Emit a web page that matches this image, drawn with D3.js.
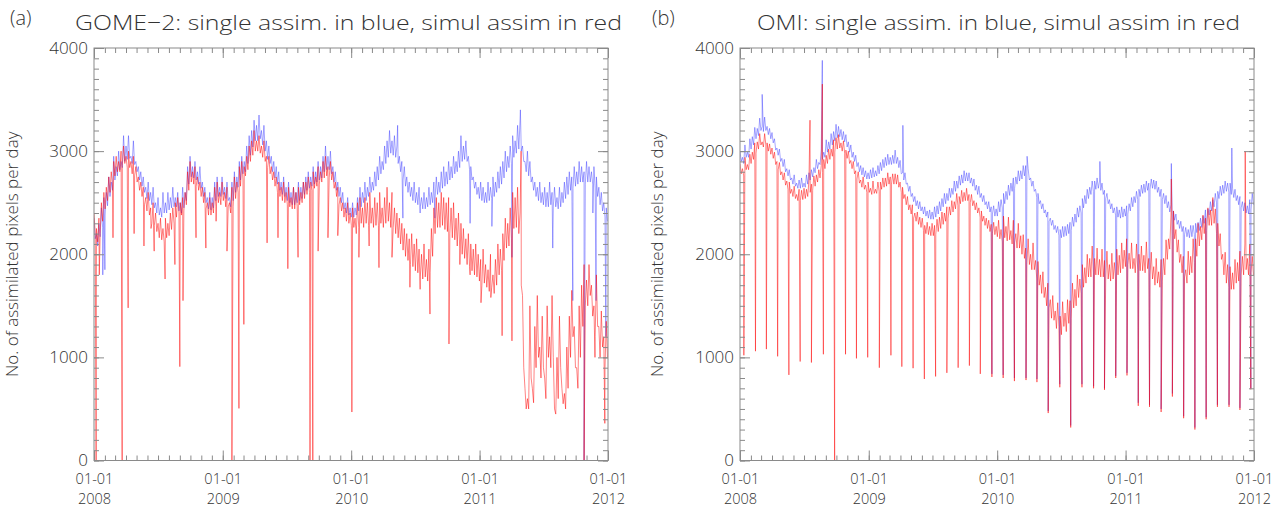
<!DOCTYPE html>
<html><head><meta charset="utf-8">
<script src="https://cdn.jsdelivr.net/npm/d3@7"></script>
<style>
body{margin:0;background:#fff}
svg{display:block}
text{font-family:'Open Sans','Lato','DejaVu Sans',sans-serif;font-weight:300;fill:#333}
</style>
</head><body>
<svg id="chart" width="1282" height="508"></svg>
<script>
// ---------------- DATA ----------------
const startDate = "2008-01-01";
const endDate = "2012-01-01";
const stepDays = 7;               // one pair of readings (upper / lower edge of the daily scatter) per week
const yTicks = [0, 1000, 2000, 3000, 4000];
const yearLabels = ["2008", "2009", "2010", "2011", "2012"];
const dayLabel = "01-01";
const yLabel = "No. of assimilated pixels per day";
const titles = ["GOME\u22122: single assim. in blue, simul assim in red",
                "OMI: single assim. in blue, simul assim in red"];
const panelTags = ["(a)", "(b)"];

// GOME-2, single assimilation (blue): weekly upper readings
const gomeBlue = [
 2350,2200,2300,2450,2550,2600,2750,2700,2950,2850,
 3000,2900,3150,3050,3150,2950,3100,2900,2850,2800,
 2750,2650,2700,2600,2650,2500,2550,2450,2600,2500,
 2600,2550,2650,2550,2600,2500,2650,2600,2850,2950,
 2850,2900,2800,2850,2700,2650,2550,2600,2550,2700,
 2750,2650,2750,
 2650,2700,2550,2700,2800,2750,2900,2950,2900,3050,
 3150,3200,3300,3250,3350,3200,3250,3100,3050,2950,
 2900,2850,2800,2700,2750,2650,2700,2600,2650,2600,
 2700,2650,2700,2750,2800,2750,2850,2800,2900,2850,
 2950,3050,2950,3000,2850,2800,2700,2650,2600,2500,
 2550,2450,
 2500,2450,2550,2650,2600,2700,2650,2750,2700,2800,
 2850,2950,2900,3050,3100,3200,3100,3150,3050,2950,
 2900,2850,2750,2700,2650,2700,2600,2650,2550,2600,
 2550,2650,2600,2700,2750,2700,2800,2850,2800,2900,
 2850,2950,2900,3000,3150,3050,3100,2950,2850,2750,
 2700,2650,
 2700,2650,2600,2700,2650,2750,2700,2800,2850,2900,
 3000,2950,3050,3150,3100,3250,3300,3050,2900,3000,
 2900,2750,2700,2650,2700,2600,2650,2600,2700,2600,
 2650,2550,2650,2600,2700,2750,2800,2750,2850,2800,
 2900,2850,2800,2900,2850,2800,2850,2750,2650,2600,
 2500,2450];
// GOME-2, single assimilation (blue): weekly lower readings
const gomeBlueLow = [
 2150,2080,2170,2260,2380,2470,2560,2620,2720,2760,
 2820,2840,2900,2920,2930,2880,2870,2800,2720,2660,
 2600,2540,2520,2480,2450,2400,2380,2360,2400,2400,
 2430,2450,2460,2460,2420,2400,2450,2520,2680,2750,
 2740,2720,2680,2640,2560,2500,2440,2430,2450,2520,
 2560,2560,2580,
 2540,2520,2460,2520,2600,2650,2720,2780,2800,2880,
 2960,3040,3100,3100,3120,3060,3000,2920,2880,2800,
 2740,2680,2620,2580,2560,2520,2500,2480,2480,2500,
 2520,2540,2580,2620,2640,2660,2680,2700,2720,2740,
 2800,2820,2820,2780,2700,2620,2560,2500,2440,2400,
 2380,2360,
 2360,2380,2420,2460,2500,2520,2560,2600,2620,2660,
 2720,2780,2820,2880,2940,2980,2960,2940,2880,2800,
 2720,2660,2600,2560,2520,2500,2480,2460,2440,2440,
 2460,2480,2500,2540,2580,2600,2640,2660,2680,2720,
 2740,2780,2800,2840,2900,2920,2900,2820,2720,2640,
 2580,2540,
 2520,2500,2500,2520,2540,2560,2600,2640,2680,2740,
 2800,2840,2880,2940,2980,3020,3000,2900,2800,2760,
 2700,2620,2560,2520,2500,2480,2460,2460,2480,2460,
 2460,2440,2460,2500,2540,2580,2620,2640,2660,2680,
 2700,2700,2680,2700,2700,2680,2640,2560,2480,2420,
 2360,2320];
// GOME-2, simultaneous assimilation (red): weekly upper readings
const gomeRed = [
 2400,2250,2350,2500,2600,2650,2750,2800,2900,2950,
 2900,3000,3050,2950,3000,2900,2950,2850,2750,2700,
 2650,2550,2600,2450,2500,2400,2300,2350,2250,2350,
 2300,2400,2450,2500,2550,2500,2550,2600,2800,2900,
 2800,2850,2750,2700,2650,2600,2500,2550,2500,2650,
 2700,2600,2700,
 2600,2650,2500,2650,2750,2700,2850,2900,2850,2950,
 3050,3100,3200,3100,3150,3050,3100,2950,2950,2850,
 2800,2750,2700,2650,2700,2600,2650,2550,2650,2600,
 2650,2600,2700,2700,2750,2700,2800,2750,2850,2800,
 2900,2950,2850,2900,2800,2700,2650,2550,2500,2450,
 2500,2400,
 2450,2350,2500,2550,2450,2550,2500,2600,2450,2550,
 2500,2600,2450,2550,2650,2500,2600,2450,2400,2350,
 2300,2250,2200,2150,2200,2100,2150,2050,2000,2100,
 1950,2050,2250,2450,2550,2500,2600,2550,2500,2550,
 2450,2500,2350,2400,2300,2250,2150,2200,2100,2050,
 2100,2000,
 1950,2050,1900,1850,2000,1800,1950,2100,2050,2200,
 2350,2300,2450,2600,2550,2650,2400,1600,700,600,
 1500,700,1300,1600,1100,1400,800,1500,1200,1600,
 500,1000,1400,700,650,1100,1400,1650,1300,900,
 1500,1700,1900,1750,1900,1700,1500,1800,1300,1450,
 1200,1350];
// GOME-2, simultaneous assimilation (red): weekly lower readings
const gomeRedLow = [
 2200,2120,2200,2320,2440,2520,2600,2680,2760,2800,
 2800,2860,2880,2840,2840,2780,2760,2700,2620,2560,
 2480,2420,2380,2300,2280,2220,2160,2140,2120,2160,
 2180,2240,2300,2360,2400,2380,2420,2480,2620,2700,
 2680,2660,2620,2560,2500,2440,2380,2380,2400,2460,
 2500,2480,2520,
 2460,2460,2400,2460,2540,2600,2660,2720,2760,2820,
 2900,2960,3000,3000,2980,2940,2900,2840,2780,2720,
 2660,2600,2560,2520,2500,2480,2460,2440,2440,2460,
 2480,2500,2540,2580,2600,2620,2640,2660,2680,2700,
 2740,2760,2740,2720,2640,2560,2480,2420,2360,2320,
 2300,2280,
 2260,2200,2260,2300,2260,2300,2280,2300,2260,2280,
 2280,2300,2260,2300,2320,2260,2260,2200,2160,2100,
 2040,1980,1940,1900,1880,1840,1820,1780,1760,1780,
 1740,1820,1980,2200,2260,2260,2280,2240,2220,2200,
 2160,2140,2080,2060,2000,1960,1900,1880,1840,1800,
 1780,1740,
 1700,1720,1680,1640,1680,1620,1700,1800,1840,1940,
 2060,2080,2150,2250,2260,2200,1700,900,500,500,
 800,560,900,1000,800,900,600,1000,900,1000,
 450,600,900,550,500,700,1000,1200,900,700,
 1000,1300,1500,1500,1600,1400,1200,1300,1000,1100,
 900,1000];
// isolated daily outliers: [day since start, value]
const gomeBlueEvents = [[25,1800],[31,1850],[863,3250],[878,2350],[927,2400],[969,2350],
 [1069,2300],[1131,2270],[1188,1970],[1212,3400],[1304,2060],[1361,1550],[1393,0],
 [1418,2400],[1427,1550],[1455,1200]];
const gomeRedEvents = [[6,0],[15,1800],[54,2160],[80,0],[97,1480],[114,2200],[142,2080],
 [162,2250],[171,2030],[202,1760],[230,1900],[244,910],[253,1550],[290,2160],[318,2060],
 [347,2320],[378,2030],[392,0],[412,505],[426,1320],[492,2110],[523,2160],[551,1860],
 [580,1970],[614,0],[622,0],[637,2030],[665,2160],[693,2180],[733,470],[753,1970],
 [782,2080],[810,1870],[847,1970],[898,1680],[927,1660],[955,1420],[1009,1130],
 [1040,1900],[1069,1800],[1100,1530],[1128,1580],[1160,1210],[1188,1160],[1214,3000],
 [1393,0],[1424,1000],[1452,360]];

// OMI, single assimilation (blue): weekly upper readings
const omiBlue = [
 3000,2940,3060,2990,3120,3140,3230,3220,3320,3240,
 3330,3240,3220,3180,3120,3030,3020,2930,2920,2830,
 2820,2740,2770,2690,2720,2740,2690,2770,2790,2820,
 2840,2920,2890,3010,2990,3110,3090,3170,3190,3260,
 3240,3210,3190,3160,3090,3060,2990,2960,2890,2860,
 2840,2810,2790,
 2820,2840,2810,2860,2890,2920,2940,2970,2940,2960,
 3010,2940,2910,2790,2790,2690,2660,2590,2560,2520,
 2510,2460,2460,2420,2430,2410,2460,2470,2510,2540,
 2590,2590,2640,2640,2710,2710,2760,2770,2810,2790,
 2790,2740,2730,2670,2660,2590,2570,2510,2510,2460,
 2470,2440,
 2510,2530,2590,2610,2670,2690,2740,2750,2810,2810,
 2860,2860,2830,2740,2710,2630,2590,2520,2490,2430,
 2410,2350,2330,2280,2270,2240,2270,2270,2290,2310,
 2360,2390,2450,2470,2540,2570,2630,2650,2710,2710,
 2740,2710,2690,2620,2590,2530,2490,2450,2460,2430,
 2460,2440,
 2470,2490,2550,2560,2610,2630,2670,2680,2710,2690,
 2730,2720,2710,2650,2630,2590,2570,2510,2480,2420,
 2390,2330,2320,2270,2260,2240,2280,2280,2300,2310,
 2350,2370,2430,2440,2510,2530,2590,2610,2660,2670,
 2710,2690,2690,2640,2630,2570,2560,2510,2500,2470,
 2530,2590];
// OMI, single assimilation (blue): weekly lower readings
const omiBlueLow = [
 2900,2880,2940,2940,3020,3060,3120,3150,3200,3190,
 3200,3160,3120,3080,3010,2960,2900,2850,2800,2760,
 2720,2680,2660,2640,2640,2650,2650,2680,2720,2750,
 2790,2830,2870,2920,2940,2990,3020,3060,3100,3130,
 3140,3110,3090,3040,2990,2940,2900,2850,2800,2770,
 2750,2730,2730,
 2740,2750,2760,2780,2810,2840,2860,2870,2870,2880,
 2880,2840,2780,2720,2680,2610,2560,2510,2470,2440,
 2420,2390,2370,2350,2340,2340,2360,2390,2420,2460,
 2490,2520,2550,2580,2610,2640,2670,2690,2710,2710,
 2690,2660,2620,2580,2550,2510,2480,2440,2410,2390,
 2370,2370,
 2410,2450,2490,2530,2570,2610,2640,2680,2710,2730,
 2760,2760,2720,2660,2610,2550,2490,2440,2400,2360,
 2320,2280,2240,2210,2180,2160,2170,2180,2200,2230,
 2270,2310,2360,2400,2450,2490,2540,2580,2610,2630,
 2640,2620,2580,2540,2490,2440,2400,2380,2360,2350,
 2360,2370,
 2390,2420,2460,2500,2530,2560,2590,2600,2620,2630,
 2640,2630,2600,2560,2530,2490,2450,2410,2370,2330,
 2290,2250,2220,2190,2170,2160,2170,2190,2210,2230,
 2260,2300,2340,2380,2420,2460,2500,2540,2570,2590,
 2610,2600,2580,2550,2520,2480,2450,2420,2400,2390,
 2430,2480];
// OMI, simultaneous assimilation (red): weekly upper readings
const omiRed = [
 2880,2830,2940,2870,2970,2990,3080,3090,3170,3090,
 3170,3080,3070,3030,2990,2900,2890,2800,2790,2710,
 2700,2630,2660,2580,2630,2620,2640,2630,2720,2680,
 2760,2770,2820,2860,2920,2960,3020,3020,3110,3130,
 3160,3080,3100,3010,3000,2910,2900,2810,2800,2720,
 2750,2670,2700,
 2640,2710,2630,2700,2700,2740,2740,2790,2750,2780,
 2780,2770,2700,2650,2580,2560,2480,2480,2400,2410,
 2360,2350,2280,2310,2270,2300,2280,2340,2360,2410,
 2400,2460,2460,2520,2510,2590,2560,2620,2600,2640,
 2580,2580,2520,2500,2450,2420,2370,2350,2330,2290,
 2310,2270,
 2330,2240,2370,2270,2360,2230,2330,2200,2300,2180,
 2190,2060,2150,2000,2110,1940,1930,1800,1830,1680,
 1720,1560,1600,1450,1530,1400,1540,1430,1560,1550,
 1720,1660,1800,1760,1900,1870,2000,1960,2080,1960,
 2060,1950,2050,1940,2030,1900,2010,1920,2050,1990,
 2110,2040,
 2150,2010,2110,1960,2100,2000,2080,1990,2120,1960,
 2020,1880,1960,1830,1950,1960,2140,2150,2380,2420,
 2240,2140,2000,1980,1850,2030,1980,2150,2150,2300,
 2270,2380,2350,2450,2430,2550,2440,2300,2200,2000,
 2020,1900,1880,1820,1950,1920,2030,1980,2100,1960,
 2090,1980];
// OMI, simultaneous assimilation (red): weekly lower readings
const omiRedLow = [
 2780,2760,2820,2820,2880,2920,2980,3020,3060,3040,
 3060,3000,2970,2930,2870,2820,2770,2720,2670,2630,
 2590,2560,2540,2520,2520,2530,2540,2560,2600,2620,
 2660,2700,2740,2790,2830,2880,2920,2950,2990,3020,
 3030,3000,2980,2930,2880,2830,2780,2730,2690,2650,
 2630,2600,2600,
 2580,2590,2590,2610,2630,2650,2660,2680,2680,2680,
 2680,2650,2600,2540,2480,2430,2390,2350,2320,2290,
 2260,2230,2200,2190,2180,2180,2190,2220,2250,2290,
 2320,2350,2380,2410,2440,2470,2490,2510,2520,2520,
 2500,2470,2430,2400,2360,2320,2280,2250,2220,2200,
 2190,2170,
 2150,2120,2160,2130,2140,2100,2110,2060,2060,2000,
 1960,1900,1900,1850,1850,1760,1700,1620,1580,1500,
 1480,1380,1360,1280,1300,1220,1300,1250,1330,1380,
 1480,1500,1580,1620,1680,1720,1780,1780,1820,1800,
 1800,1780,1780,1760,1760,1740,1760,1760,1800,1820,
 1860,1880,
 1900,1860,1860,1820,1850,1840,1840,1820,1860,1800,
 1760,1700,1720,1680,1740,1800,1950,2050,2180,2150,
 2020,1920,1820,1780,1720,1800,1820,1920,1980,2080,
 2140,2200,2230,2280,2280,2300,2200,2080,1950,1800,
 1720,1680,1660,1660,1720,1740,1800,1800,1850,1800,
 1820,1800];
const omiBlueEvents = [[63,3550],[234,3880],[463,3250],[716,840],[748,830],[780,800],
 [813,800],[816,2950],[844,790],[876,480],[909,740],[940,340],[972,740],[1005,720],
 [1023,2900],[1036,700],[1068,820],[1100,850],[1132,560],[1164,540],[1197,500],
 [1226,2880],[1229,650],[1261,430],[1293,320],[1325,420],[1357,540],[1390,540],
 [1398,3030],[1421,510],[1452,700]];
const omiRedEvents = [[11,1020],[44,1060],[75,1080],[107,1010],[139,830],[171,960],
 [199,3300],[203,950],[234,3650],[237,1030],[269,0],[300,1030],[331,990],[363,1000],
 [396,900],[429,1020],[460,910],[492,895],[524,790],[556,815],[588,850],[620,900],
 [652,920],[683,840],[716,810],[748,800],[780,770],[813,780],[844,760],[876,460],
 [909,710],[940,320],[972,710],[1005,700],[1036,685],[1068,800],[1100,825],[1132,530],
 [1164,520],[1197,470],[1226,2730],[1229,620],[1261,410],[1293,300],[1325,400],
 [1357,520],[1390,520],[1421,490],[1436,3000],[1452,690]];

// ---------------- DRAWING ----------------
const svg = d3.select("#chart");
const t0 = new Date(startDate + "T00:00:00Z");
const t1 = new Date(endDate + "T00:00:00Z");
const plotTop = 48, plotBottom = 460.5;
const axisColor = "#8a8a8a";

const panels = [
  {left: 94, right: 608, blue: gomeBlue, blueLo: gomeBlueLow, red: gomeRed, redLo: gomeRedLow,
   bEv: gomeBlueEvents, rEv: gomeRedEvents, tagX: 10, titleX: 348.5, titleW: 547, ylabX: 18},
  {left: 740, right: 1254, blue: omiBlue, blueLo: omiBlueLow, red: omiRed, redLo: omiRedLow,
   bEv: omiBlueEvents, rEv: omiRedEvents, tagX: 652, titleX: 998.5, titleW: 483, ylabX: 663}
];

function points(hi, lo, events) {
  const a = [];
  hi.forEach((v, i) => {
    const d = d3.utcDay.offset(t0, stepDays * i);
    a.push({d, v});
    a.push({d: d3.utcHour.offset(d, stepDays * 12), v: lo[i]});
  });
  events.forEach(([day, v]) => a.push({d: d3.utcDay.offset(t0, day), v}));
  a.sort((p, q) => p.d - q.d);
  return a;
}

panels.forEach((p, k) => {
  const x = d3.scaleUtc().domain([t0, t1]).range([p.left, p.right]);
  const y = d3.scaleLinear().domain([0, 4000]).range([plotBottom, plotTop]);
  const g = svg.append("g");

  const clipId = "clip" + k;
  g.append("clipPath").attr("id", clipId).append("rect")
    .attr("x", p.left).attr("y", plotTop - 1).attr("width", p.right - p.left).attr("height", plotBottom - plotTop + 1);

  const line = d3.line().x(d => x(d.d)).y(d => y(d.v));
  const data = g.append("g").attr("clip-path", `url(#${clipId})`);
  data.append("path").attr("d", line(points(p.blue, p.blueLo, p.bEv)))
    .attr("fill", "none").attr("stroke", "#3a3aff").attr("stroke-opacity", 0.5)
    .attr("stroke-width", 0.9);
  data.append("path").attr("d", line(points(p.red, p.redLo, p.rEv)))
    .attr("fill", "none").attr("stroke", "#ff0000").attr("stroke-opacity", 0.55)
    .attr("stroke-width", 0.9);

  // axes (ticks pointing inward on all four sides)
  const styleAxis = sel => {
    sel.select(".domain").remove();
    sel.selectAll(".tick line").attr("stroke", axisColor);
  };
  const months = d3.utcMonth.range(t0, d3.utcDay.offset(t1, 1));
  const years = d3.utcYear.range(t0, d3.utcDay.offset(t1, 1));
  const minorY = d3.range(0, 4001, 100);

  g.append("g").attr("transform", `translate(0,${plotBottom})`)
    .call(d3.axisBottom(x).tickValues(months).tickSize(-5).tickFormat("")).call(styleAxis);
  g.append("g").attr("transform", `translate(0,${plotTop})`)
    .call(d3.axisTop(x).tickValues(months).tickSize(-5).tickFormat("")).call(styleAxis);
  g.append("g").attr("transform", `translate(0,${plotTop})`)
    .call(d3.axisTop(x).tickValues(years).tickSize(-10).tickFormat("")).call(styleAxis);
  const xb = g.append("g").attr("transform", `translate(0,${plotBottom})`)
    .call(d3.axisBottom(x).tickValues(years).tickSize(-10).tickFormat("")).call(styleAxis);
  xb.selectAll(".tick").each(function(d, i) {
    const t = d3.select(this);
    t.append("text").attr("text-anchor", "middle").attr("x", 0).attr("y", 23.5)
      .style("font-size", "14.5px").attr("fill", "#333").text(dayLabel);
    t.append("text").attr("text-anchor", "middle").attr("x", 0).attr("y", 43.25)
      .style("font-size", "14.5px").attr("fill", "#333").text(yearLabels[i]);
  });

  g.append("g").attr("transform", `translate(${p.left},0)`)
    .call(d3.axisLeft(y).tickValues(minorY).tickSize(-5).tickFormat("")).call(styleAxis);
  g.append("g").attr("transform", `translate(${p.right},0)`)
    .call(d3.axisRight(y).tickValues(minorY).tickSize(-5).tickFormat("")).call(styleAxis);
  g.append("g").attr("transform", `translate(${p.right},0)`)
    .call(d3.axisRight(y).tickValues(yTicks).tickSize(-10).tickFormat("")).call(styleAxis);
  const yl = g.append("g").attr("transform", `translate(${p.left},0)`)
    .call(d3.axisLeft(y).tickValues(yTicks).tickSize(-10).tickPadding(6).tickFormat(d3.format("d")))
    .call(styleAxis);
  yl.selectAll(".tick text").attr("x", -6).style("font-size", "17px").attr("fill", "#333")
    .style("font-family", "'Open Sans','Lato',sans-serif").style("font-weight", 300);

  // frame
  g.append("rect").attr("x", p.left).attr("y", plotTop)
    .attr("width", p.right - p.left).attr("height", plotBottom - plotTop)
    .attr("fill", "none").attr("stroke", axisColor).attr("stroke-width", 1);

  // titles
  g.append("text").attr("x", p.tagX).attr("y", 25).style("font-size", "20px").text(panelTags[k]);
  g.append("text").attr("x", p.titleX).attr("y", 30).attr("text-anchor", "middle")
    .attr("textLength", p.titleW).attr("lengthAdjust", "spacingAndGlyphs")
    .style("font-size", "21px").text(titles[k]);
  g.append("text").attr("transform", `translate(${p.ylabX},${(plotTop + plotBottom) / 2}) rotate(-90)`)
    .attr("text-anchor", "middle").style("font-size", "17px").attr("fill", "#555").text(yLabel);
});
</script>
</body></html>
